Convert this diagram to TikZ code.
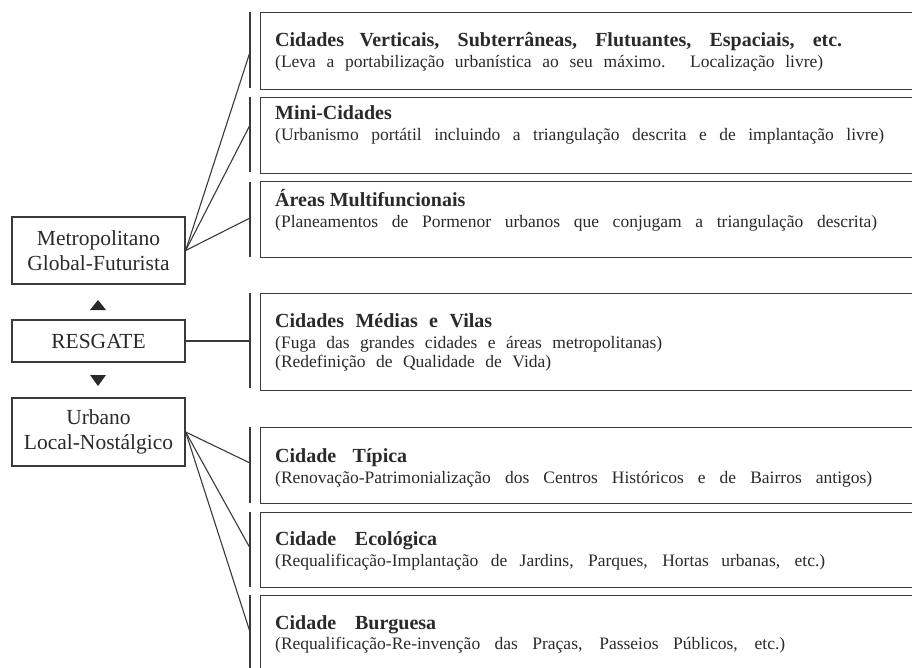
\documentclass[tikz,border=0pt]{standalone}
\usepackage{fontspec}
\setmainfont{Liberation Serif}
\definecolor{lc}{HTML}{3A3A3A}
\definecolor{tc}{HTML}{2A2A2A}
\begin{document}
\begin{tikzpicture}[x=1pt,y=-1pt,
 ln/.style={draw=lc, line width=1.1pt},
 lbox/.style={draw=lc, line width=1.3pt, minimum width=173pt, align=center, inner sep=0pt, font=\fontsize{21.5}{25}\selectfont, text=tc},
 rbox/.style={draw=lc, line width=1.3pt, anchor=north west, minimum width=680pt, inner sep=0pt},
 ttl/.style={anchor=base west, inner sep=0pt, font=\bfseries\fontsize{20}{24}\selectfont, text=tc},
 sub/.style={anchor=base west, inner sep=0pt, font=\fontsize{17.5}{21}\selectfont, text=tc}]
\clip (0,0) rectangle (912,668);
\fill[white] (0,0) rectangle (912,668);

% left boxes
\node[lbox, minimum height=67pt] (metro) at (98.5,250.5) {Metropolitano\\Global-Futurista};
\node[lbox, minimum height=42pt] (resg) at (98.5,341) {RESGATE};
\node[lbox, minimum height=68pt] (urb) at (98.5,432) {Urbano\\Local-Nostálgico};
\fill[tc] (90,310) -- (106,310) -- (98,300) -- cycle;
\fill[tc] (90,375) -- (106,375) -- (98,386) -- cycle;

% right boxes
\node[rbox, minimum height=77pt] (b1) at (260,12) {};
\node[rbox, minimum height=76pt] (b2) at (260,97) {};
\node[rbox, minimum height=76pt] (b3) at (260,181) {};
\node[rbox, minimum height=97pt] (b4) at (260,293) {};
\node[rbox, minimum height=76pt] (b5) at (260,427) {};
\node[rbox, minimum height=75pt] (b6) at (260,512) {};
\node[rbox, minimum height=110pt] (b7) at (260,595) {};

% bracket lines
\coordinate (v1a) at (250,12);  \coordinate (v1b) at (250,88);
\coordinate (v2a) at (250,97);  \coordinate (v2b) at (250,172);
\coordinate (v3a) at (250,182); \coordinate (v3b) at (250,257);
\coordinate (v4a) at (250,293); \coordinate (v4b) at (250,388);
\coordinate (v5a) at (250,427); \coordinate (v5b) at (250,503);
\coordinate (v6a) at (250,512); \coordinate (v6b) at (250,587);
\coordinate (v7a) at (250,595); \coordinate (v7b) at (250,668);
\foreach \i in {1,...,7} {\draw[ln] (v\i a) -- (v\i b);}

\coordinate (t1) at (250,52);
\coordinate (t2) at (250,125);
\coordinate (t3) at (250,218);
\coordinate (t4) at (250,341);
\coordinate (t5) at (250,463);
\coordinate (t6) at (250,548);
\coordinate (t7) at (250,632);

\draw[ln] (metro.east) -- (t1);
\draw[ln] (metro.east) -- (t2);
\draw[ln] (metro.east) -- (t3);
\draw[ln] (resg.east) -- (t4);
\draw[ln] (urb.east) -- (t5);
\draw[ln] (urb.east) -- (t6);
\draw[ln] (urb.east) -- (t7);

% texts
\node[ttl] (h1) at (275,47) {\makebox[567pt][s]{Cidades Verticais, Subterrâneas, Flutuantes, Espaciais, etc.}};
\node[sub] (s1) at (275,68) {\makebox[548pt][s]{(Leva a portabilização urbanística ao seu máximo. Localização livre)}};

\node[ttl] (h2) at (275,120) {Mini-Cidades};
\node[sub] (s2) at (275,141) {\makebox[609pt][s]{(Urbanismo portátil incluindo a triangulação descrita e de implantação livre)}};

\node[ttl] (h3) at (275,207) {Áreas Multifuncionais};
\node[sub] (s3) at (275,228) {\makebox[602pt][s]{(Planeamentos de Pormenor urbanos que conjugam a triangulação descrita)}};

\node[ttl] (h4) at (275,327) {\makebox[217pt][s]{Cidades Médias e Vilas}};
\node[sub] (s4a) at (275,348) {\makebox[387pt][s]{(Fuga das grandes cidades e áreas metropolitanas)}};
\node[sub] (s4b) at (275,367) {\makebox[276pt][s]{(Redefinição de Qualidade de Vida)}};

\node[ttl] (h5) at (275,462) {\makebox[132pt][s]{Cidade Típica}};
\node[sub] (s5) at (275,483) {\makebox[597pt][s]{(Renovação-Patrimonialização dos Centros Históricos e de Bairros antigos)}};

\node[ttl] (h6) at (275,545) {\makebox[162pt][s]{Cidade Ecológica}};
\node[sub] (s6) at (275,566) {\makebox[550pt][s]{(Requalificação-Implantação de Jardins, Parques, Hortas urbanas, etc.)}};

\node[ttl] (h7) at (275,629) {\makebox[161pt][s]{Cidade Burguesa}};
\node[sub] (s7) at (275,649) {\makebox[510pt][s]{(Requalificação-Re-invenção das Praças, Passeios Públicos, etc.)}};
\end{tikzpicture}
\end{document}
